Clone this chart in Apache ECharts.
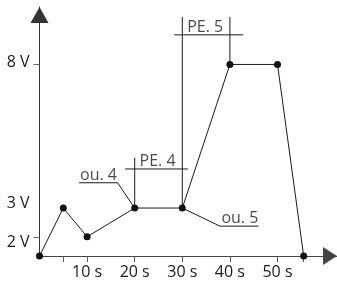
<!DOCTYPE html>
<html>
<head>
<meta charset="utf-8">
<script src="https://cdn.jsdelivr.net/npm/echarts@6/dist/echarts.min.js"></script>
<style>
  html, body { margin: 0; padding: 0; background: #fff; }
  #chart { width: 337px; height: 285px; }
</style>
</head>
<body>
<div id="chart"></div>
<script>
// voltage curve: time (s) / voltage (V)
const times = [0, 5, 10, 20, 30, 40, 50, 55.5];
const volts = [1.33, 3, 2, 3, 3, 8, 8, 1.33];

// ticks and labels
const xTickValues = [5, 10, 20, 30, 40, 50, 55.5];
const xLabelValues = [10, 20, 30, 40, 50];
const yTickValues = [2, 8];
const yLabelValues = [2, 3, 8];

// callouts: text, where the text sits, leader lines (axis units)
const calloutNames = ["PE. 5", "PE. 4", "ou. 4", "ou. 5"];
const calloutAnchors = [[34.8, 9.03], [24.8, 4.36], [12.4, 3.88], [42.1, 2.37]];
const leaders = [
  [[30, 3], [30, 9.65]],
  [[28.3, 9.03], [42.8, 9.03]],
  [[40, 9.65], [40, 8]],
  [[20, 3], [20, 4.75]],
  [[18, 4.36], [31.2, 4.36]],
  [[8.3, 3.88], [16.4, 3.88], [20, 3]],
  [[30, 3], [37.9, 2.37], [46, 2.37]],
];

const font = "Open Sans";
const ink = "#1a1a1a";
const size = 16;

const chart = echarts.init(document.getElementById("chart"));

const series = [];
//引线
leaders.forEach(function (pts) {
  series.push({
    type: "line",
    data: pts,
    symbol: "none",
    silent: true,
    lineStyle: { color: ink, width: 1 },
    z: 2,
  });
});
//曲线
series.push({
  type: "line",
  data: times.map((t, i) => [t, volts[i]]),
  symbol: "circle",
  symbolSize: 7,
  itemStyle: { color: "#111" },
  lineStyle: { color: ink, width: 1 },
  z: 5,
});
//标注文字
series.push({
  type: "scatter",
  data: calloutNames.map((n, i) => ({ name: n, value: calloutAnchors[i] })),
  symbolSize: 1,
  itemStyle: { color: "rgba(0,0,0,0)" },
  label: {
    show: true,
    position: "top",
    distance: -1,
    formatter: "{b}",
    fontFamily: font,
    fontSize: size,
    color: ink,
  },
  z: 6,
});

const yRich = {
  up: { fontFamily: font, fontSize: size, color: ink, padding: [0, 0, 10, 0] },
  down: { fontFamily: font, fontSize: size, color: ink, padding: [12, 0, 0, 0] },
  mid: { fontFamily: font, fontSize: size, color: ink, padding: [0, 0, 4, 0] },
};

chart.setOption({
  animation: false,
  grid: { left: 39.5, right: 0, top: 7, bottom: 29, outerBoundsMode: "none" },
  xAxis: {
    type: "value",
    min: 0,
    max: 62.5,
    splitLine: { show: false },
    axisLine: {
      show: true,
      symbol: ["none", "triangle"],
      symbolSize: [18, 14],
      symbolOffset: [0, -7],
      lineStyle: { color: "#444", width: 1 },
    },
    axisTick: {
      show: true,
      customValues: xTickValues,
      length: 6,
      lineStyle: { color: "#555" },
    },
    axisLabel: {
      customValues: xLabelValues,
      formatter: "{value} s",
      margin: 8,
      fontFamily: font,
      fontSize: size,
      color: ink,
    },
  },
  yAxis: {
    type: "value",
    min: 1.33,
    max: 10,
    splitLine: { show: false },
    axisLine: {
      show: true,
      symbol: ["none", "triangle"],
      symbolSize: [18, 16],
      symbolOffset: [0, -8],
      lineStyle: { color: "#333", width: 1 },
    },
    axisTick: {
      show: true,
      customValues: yTickValues,
      length: 6,
      lineStyle: { color: "#666" },
    },
    axisLabel: {
      customValues: yLabelValues,
      margin: 10,
      formatter: function (v) {
        if (v === 3) return "{up|3 V}";
        if (v === 2) return "{down|2 V}";
        return "{mid|" + v + " V}";
      },
      rich: yRich,
    },
  },
  series: series,
});
</script>
</body>
</html>
